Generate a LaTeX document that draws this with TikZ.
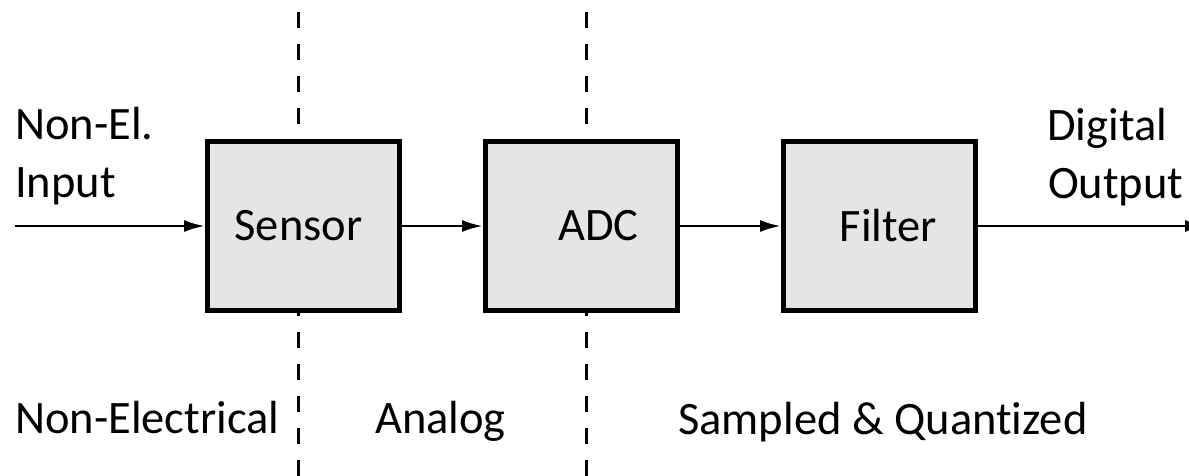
\documentclass[tikz,border=0pt]{standalone}
\usepackage{fontspec}
\setmainfont{Carlito}[Ligatures=NoCommon]
\usetikzlibrary{arrows.meta}
\definecolor{boxgray}{RGB}{229,229,229}
\tikzset{
  blockbox/.style={draw=black, fill=boxgray, line width=5pt,
    minimum width=192pt, minimum height=169pt, inner sep=0pt,
    font=\fontsize{46.5}{56}\selectfont},
  lbl/.style={anchor=base west, inner sep=0pt, font=\fontsize{46.5}{56}\selectfont},
  zoneline/.style={line width=3pt, dash pattern=on 16pt off 16pt},
  flow/.style={line width=2.8pt, -{Latex[length=21pt,width=12pt]}}
}
\begin{document}
\begin{tikzpicture}[x=1pt,y=-1pt]
  \useasboundingbox (0,0) rectangle (1189,475);
  % domain borders
  \coordinate (d1top) at (298,12);
  \coordinate (d1bot) at (298,480);
  \coordinate (d2top) at (586,12);
  \coordinate (d2bot) at (586,480);
  \draw[zoneline] (d1top) -- (d1bot);
  \draw[zoneline] (d2top) -- (d2bot);
  % processing blocks
  \node[blockbox] (sensor) at (303.5,226) {\hspace*{-10pt}\raisebox{-2pt}{Sensor}};
  \node[blockbox] (adc) at (581.5,226) {\hspace*{34pt}\raisebox{-2pt}{ADC}};
  \node[blockbox] (filter) at (879.5,226) {\hspace*{18pt}\raisebox{-2pt}{Filter}};
  % signal path
  \coordinate (in) at (15,226);
  \coordinate (out) at (1206,226);
  \draw[flow] (in) -- (sensor.west);
  \draw[flow] (sensor) -- (adc);
  \draw[flow] (adc) -- (filter);
  \draw[flow] (filter) -- (out);
  % input / output labels
  \node[lbl] (inA) at (15,139) {Non-El.};
  \node[lbl] (inB) at (15,197) {Input};
  \node[lbl] (outA) at (1047,140) {Digital};
  \node[lbl] (outB) at (1048,198) {Output};
  % domain names
  \node[lbl] (dom1) at (15,433) {Non-Electrical};
  \node[lbl] (dom2) at (375,433) {Analog};
  \node[lbl] (dom3) at (678,434) {Sampled \& Quantized};
\end{tikzpicture}
\end{document}
